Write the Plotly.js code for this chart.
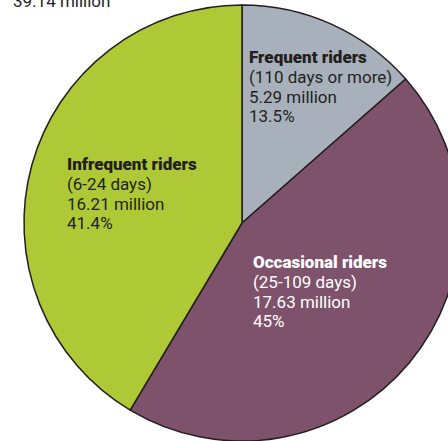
<!DOCTYPE html>
<html>
<head>
<meta charset="utf-8">
<script src="https://cdn.plot.ly/plotly-3.0.1.min.js"></script>
<style>
  html, body { margin: 0; padding: 0; overflow: hidden; background: #fff; }
  #chart { width: 484px; height: 441px; }
</style>
</head>
<body>
<div id="chart"></div>
<script>
// Riders by how often they ride (millions)
const groups = ["Frequent riders", "Occasional riders", "Infrequent riders"];
const dayRanges = ["(110 days or more)", "(25-109 days)", "(6-24 days)"];
const riders = [5.29, 17.63, 16.21];
const shares = [13.5, 45, 41.4];
const totalRiders = 39.14;

const sliceColors = ["#a8b1bb", "#7e526b", "#afc836"];
const textColors = ["#231f20", "#ffffff", "#231f20"];

// pixel spot of each label block (left x, first baseline y)
const labelSpots = [[248, 63], [252, 268], [66, 170]];

const W = 484, H = 441;
const FS = 17, LINE = 19.7;

function px(x) { return x / W; }
function py(y) { return 1 - y / H; }

let annotations = [];
for (let i = 0; i < groups.length; i++) {
    let lines = [groups[i], dayRanges[i], riders[i].toFixed(2) + " million", shares[i] + "%"];
    for (let j = 0; j < lines.length; j++) {
        let base = labelSpots[i][1] + j * LINE;
        annotations.push({
            text: lines[j],
            xref: "paper", yref: "paper",
            x: px(labelSpots[i][0]), y: py(base - FS * 0.345),
            xanchor: "left", yanchor: "middle",
            showarrow: false,
            borderpad: 0,
            font: { family: "Roboto", size: FS, color: textColors[i], weight: j == 0 ? 900 : 400 }
        });
    }
}
annotations.push({
    text: totalRiders.toFixed(2) + " million",
    xref: "paper", yref: "paper",
    x: px(12), y: py(6.5 - FS * 0.345),
    xanchor: "left", yanchor: "middle",
    showarrow: false, borderpad: 0,
    font: { family: "Roboto", size: FS, color: "#231f20" }
});

let trace = {
    type: "pie",
    values: riders,
    labels: groups,
    sort: false,
    direction: "clockwise",
    rotation: 0,
    textinfo: "none",
    hoverinfo: "none",
    marker: { colors: sliceColors, line: { color: "#231f20", width: 1.5 } },
    domain: { x: [0, 1], y: [0, 436 / H] }
};

let layout = {
    width: W, height: H,
    margin: { l: 0, r: 0, t: 0, b: 0 },
    showlegend: false,
    paper_bgcolor: "#ffffff",
    annotations: annotations
};

Plotly.newPlot("chart", [trace], layout, { staticPlot: true });
</script>
</body>
</html>
